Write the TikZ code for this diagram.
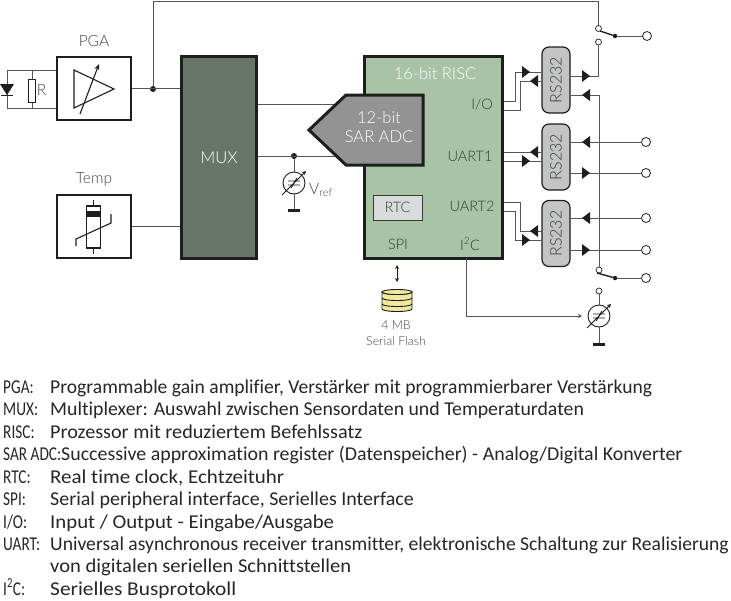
\documentclass[tikz,border=0pt]{standalone}
\usepackage{fontspec}
\usetikzlibrary{arrows.meta}
\setmainfont{Carlito}[Ligatures=NoCommon]
\newfontfamily\keyfont{Carlito}[Ligatures=NoCommon,FakeStretch=0.78]
\newfontfamily\blockfont{Lato Light}
\definecolor{wirec}{HTML}{555555}
\definecolor{darkc}{HTML}{1C1F1C}
\definecolor{muxc}{HTML}{68766A}
\definecolor{riscc}{HTML}{A8C3A5}
\definecolor{adcc}{HTML}{939393}
\definecolor{rtcc}{HTML}{D8DADC}
\definecolor{rsc}{HTML}{C4C4C4}
\definecolor{flashc}{HTML}{F1E8A0}
\definecolor{labelc}{HTML}{444444}
\definecolor{chipc}{HTML}{2F3F32}
\tikzset{
  wire/.style={wirec,line width=0.9pt},
  block/.style={draw=darkc,line width=1.4pt,fill=white,minimum width=74pt,minimum height=63pt,inner sep=0pt},
  bigblock/.style={draw=darkc,line width=3pt,inner sep=0pt},
  rsbox/.style={draw=darkc,line width=1.2pt,fill=rsc,rounded corners=7pt,minimum width=28pt,minimum height=66pt,inner sep=0pt,text=chipc,font=\blockfont\fontsize{16}{18}\selectfont},
  lbl/.style={text=labelc,font=\blockfont\fontsize{15.5}{18}\selectfont,inner sep=0pt},
  chiplbl/.style={text=chipc,font=\blockfont\fontsize{14.5}{16}\selectfont,inner sep=0pt},
  whitelbl/.style={text=white,font=\blockfont\fontsize{16.5}{19}\selectfont,inner sep=0pt,align=center},
  term/.style={circle,draw=darkc,line width=0.8pt,fill=white,minimum size=9pt,inner sep=0pt},
  smallterm/.style={circle,draw=darkc,line width=0.7pt,fill=white,minimum size=6pt,inner sep=0pt},
  joint/.style={circle,fill=darkc,minimum size=6pt,inner sep=0pt},
  legkey/.style={anchor=base west,inner sep=0pt,font=\keyfont\fontsize{19.6}{22}\selectfont,text=black!85},
  legtext/.style={anchor=base west,inner sep=0pt,font=\fontsize{19.6}{22}\selectfont,text=black!85},
  meter/.pic={
    \node[circle,draw=darkc,line width=0.9pt,fill=white,minimum size=22pt,inner sep=0pt] (-c) at (0,0) {};
    \draw[darkc,line width=0.9pt] (-6,-2) -- (6,-2) (-6,2) -- (6,2) (-3,5) -- (3,-5);
    \draw[darkc,line width=0.9pt,-{Stealth[length=4pt,width=4pt]}] (-12,12) -- (12,-12);
  }
}
\begin{document}
\begin{tikzpicture}[x=1pt,y=-1pt]
  \useasboundingbox (0,0) rectangle (731,600);
  \node[block] (pga) at (94,88.5) {};
  \node[block] (temp) at (94,226.5) {};
  \node[bigblock,fill=muxc,minimum width=75pt,minimum height=202pt,whitelbl] (mux) at (219,157.5) {MUX};
  \node[lbl] (pgalbl) at (94,41) {PGA};
  \node[lbl] (templbl) at (94,179) {Temp};
  % input network
  \coordinate (diodetop) at (7,70.5);
  \coordinate (diodebot) at (7,108);
  \coordinate (restop) at (32,70.5);
  \coordinate (resbot) at (32,108);
  \draw[wire] (pga.west |- diodetop) -- (diodetop) -- (diodebot) -- (pga.west |- diodebot);
  \draw[wire] (restop) -- (resbot);
  \node[draw=darkc,line width=1pt,fill=white,minimum width=7pt,minimum height=23pt,inner sep=0pt] (res) at (32,90.5) {};
  \node[lbl] (reslbl) at (41.5,90) {R};
  \fill[darkc] (0,84) -- (14,84) -- (7,95) -- cycle;
  \draw[darkc,line width=1.2pt] (1,95.5) -- (13,95.5);
  % amplifier and thermistor symbols
  \draw[darkc,line width=1.1pt] (74,70) -- (114,89) -- (74,108) -- cycle;
  \draw[darkc,line width=1.1pt,-{Stealth[length=6pt,width=5pt]}] (80,114) -- (99,64);
  \draw[darkc,line width=1.1pt,fill=white] (86.5,206) rectangle (100.5,248);
  \fill[darkc] (86.5,211) rectangle (100.5,217);
  \draw[darkc,line width=1.1pt] (93.5,200) -- (93.5,206) (93.5,248) -- (93.5,254);
  \draw[darkc,line width=1.1pt] (76,246) -- (76,239) -- (111,223) -- (111,214);
  % mux wiring
  \coordinate (adcin1) at (340,104);
  \coordinate (adcin2) at (340,156);
  \node[joint] (pgadot) at (153,89) {};
  \node[joint] (vrefdot) at (294,156) {};
  \draw[wire] (pga.east) -- (pga.east -| mux.west);
  \draw[wire] (temp.east) -- (temp.east -| mux.west);
  \draw[wire] (mux.east |- adcin1) -- (adcin1);
  \draw[wire] (mux.east |- adcin2) -- (adcin2);
  \pic (vmeter) at (294,183) {meter};
  \coordinate (vgnd) at (294,210);
  \draw[wire] (vrefdot) -- (vmeter-c);
  \draw[wire] (vmeter-c) -- (vgnd);
  \draw[darkc,line width=3pt] (288,210) -- (300,210);
  \node[lbl,anchor=west] (vreflbl) at (309,190) {V\textsubscript{ref}};
  % controller
  \node[bigblock,fill=riscc,minimum width=138pt,minimum height=202pt] (risc) at (433,157) {};
  \node[whitelbl] (risclbl) at (435,74) {16-bit RISC};
  \filldraw[bigblock,fill=adcc,line join=miter] (309,130) -- (346,95) -- (423,95) -- (423,165) -- (346,165) -- cycle;
  \node[whitelbl] (adclbl) at (379,127) {12-bit\\SAR ADC};
  \node[draw=chipc,line width=1pt,fill=rtcc,minimum width=49pt,minimum height=25pt,inner sep=0pt,chiplbl] (rtc) at (397.5,207.5) {RTC};
  \node[chiplbl] (iolbl) at (482,105) {I/O};
  \node[chiplbl] (uartalbl) at (470,156) {UART1};
  \node[chiplbl] (uartblbl) at (472,206) {UART2};
  \node[chiplbl] (spilbl) at (398,244) {SPI};
  \node[chiplbl] (iclbl) at (470,244) {I\textsuperscript{2}C};
  % serial drivers
  \node[rsbox] (rsa) at (556,80) {\rotatebox{90}{RS232}};
  \node[rsbox] (rsb) at (556,157) {\rotatebox{90}{RS232}};
  \node[rsbox] (rsc) at (556,233.5) {\rotatebox{90}{RS232}};
  \coordinate (ioa) at (503.5,101);
  \coordinate (iob) at (503.5,110);
  \coordinate (uaa) at (503.5,152);
  \coordinate (uab) at (503.5,161);
  \coordinate (uba) at (503.5,202);
  \coordinate (ubb) at (503.5,211);
  \draw[wire] (ioa) -- (515,101) |- (rsa.west |- 515,72);
  \draw[wire] (iob) -- (520,110) |- (rsa.west |- 520,81);
  \draw[wire] (uaa) -- (rsb.west |- uaa);
  \draw[wire] (uab) -- (rsb.west |- uab);
  \draw[wire] (uba) -- (520,202) |- (rsc.west |- 520,231);
  \draw[wire] (ubb) -- (515,211) |- (rsc.west |- 515,240);
  % output side
  \node[term] (tb) at (646,142) {};
  \node[term] (tc) at (646,173) {};
  \node[term] (td) at (646,218) {};
  \node[term] (te) at (646,250) {};
  \node[term] (ta) at (647,36) {};
  \node[term] (tf) at (646,278) {};
  \node[smallterm] (swaa) at (598.5,28.5) {};
  \node[smallterm] (swab) at (598.5,42) {};
  \node[smallterm] (swba) at (599,270) {};
  \node[smallterm] (swbb) at (599,291) {};
  \node[joint,minimum size=4.5pt] (pivota) at (615,36) {};
  \node[joint,minimum size=4.5pt] (pivotb) at (615,278) {};
  \coordinate (bladea) at (600,31);
  \coordinate (bladeb) at (597,273);
  \coordinate (txa) at (598.5,76);
  \coordinate (rxa) at (599,95);
  \draw[wire] (pgadot) -- (153,1) -| (swaa);
  \draw[wire] (swab) -- (txa) -- (rsa.east |- txa);
  \draw[wire] (rsa.east |- rxa) -- (rxa) -- (swba);
  \draw[wire] (rsb.east |- tb) -- (tb);
  \draw[wire] (rsb.east |- tc) -- (tc);
  \draw[wire] (rsc.east |- td) -- (td);
  \draw[wire] (rsc.east |- te) -- (te);
  \draw[wire] (pivota) -- (ta);
  \draw[wire] (pivotb) -- (tf);
  \draw[darkc,line width=1.4pt] (bladea) -- (pivota);
  \draw[darkc,line width=1.4pt] (bladeb) -- (pivotb);
  % drivers arrow heads
  \foreach \x/\y in {526/72,526/161,526/240,586/76,586/173,586/250}
    \fill[darkc] (\x-4,\y-6) -- (\x+4,\y) -- (\x-4,\y+6) -- cycle;
  \foreach \x/\y in {534/81,534/152,534/231,586/95,586/142,586/218}
    \fill[darkc] (\x+4,\y-6) -- (\x-4,\y) -- (\x+4,\y+6) -- cycle;
  % display output
  \pic (omete) at (599,316) {meter};
  \coordinate (iicout) at (466,258);
  \coordinate (iicend) at (582,316);
  \coordinate (ogndc) at (599,344);
  \draw[wire] (swbb) -- (omete-c);
  \draw[wire] (omete-c) -- (ogndc);
  \draw[darkc,line width=3pt] (593,344) -- (605,344);
  \draw[wire,-{Stealth[length=4pt,width=4pt]}] (iicout) |- (iicend);
  % flash
  \coordinate (flashtop) at (397,282);
  \coordinate (spiout) at (397,265);
  \draw[darkc,line width=1pt,{Stealth[length=4pt,width=4pt]}-{Stealth[length=4pt,width=4pt]}] (spiout) -- (flashtop);
  \draw[darkc,line width=0.9pt,fill=flashc] (382,292) arc[start angle=180,end angle=360,x radius=15,y radius=-2.5] -- (412,309) arc[start angle=360,end angle=180,x radius=15,y radius=-2.5] -- cycle;
  \draw[darkc,line width=0.9pt,fill=flashc] (397,292) ellipse[x radius=15,y radius=2.5];
  \draw[darkc,line width=0.9pt] (382,298) arc[start angle=180,end angle=360,x radius=15,y radius=-2.5];
  \draw[darkc,line width=0.9pt] (382,304) arc[start angle=180,end angle=360,x radius=15,y radius=-2.5];
  \node[lbl,font=\blockfont\fontsize{12.3}{16}\selectfont,align=center] (flashlbl) at (396,333.5) {4 MB\\Serial Flash};
  % legend
  \node[legkey] (kpga) at (3,393) {PGA:};
  \node[legtext] (tpga) at (50,393) {Programmable gain amplifier, Verstärker mit programmierbarer Verstärkung};
  \node[legkey] (kmux) at (3,415.5) {MUX:};
  \node[legtext] (tmux) at (50,415.5) {\scalebox{1.01}[1]{Multiplexer: Auswahl zwischen Sensordaten und Temperaturdaten}};
  \node[legkey] (krisc) at (3,438) {RISC:};
  \node[legtext] (trisc) at (50,438) {\scalebox{1.03}[1]{Prozessor mit reduziertem Befehlssatz}};
  \node[legkey] (ksar) at (3,460.5) {SAR ADC:};
  \node[legtext] (tsar) at (61,460.5) {\scalebox{1.015}[1]{Successive approximation register (Datenspeicher) - Analog/Digital Konverter}};
  \node[legkey] (krtc) at (3,483) {RTC:};
  \node[legtext] (trtc) at (50,483) {\scalebox{1.07}[1]{Real time clock, Echtzeituhr}};
  \node[legkey] (kspi) at (3,505.5) {SPI:};
  \node[legtext] (tspi) at (50,505.5) {\scalebox{1.02}[1]{Serial peripheral interface, Serielles Interface}};
  \node[legkey] (kio) at (3,528) {I/O:};
  \node[legtext] (tio) at (50,528) {\scalebox{1.06}[1]{Input / Output - Eingabe/Ausgabe}};
  \node[legkey] (kuart) at (3,550) {UART:};
  \node[legtext] (tuart) at (50,550) {Universal asynchronous receiver transmitter, elektronische Schaltung zur Realisierung};
  \node[legtext] (tuartb) at (50,572) {\scalebox{1.05}[1]{von digitalen seriellen Schnittstellen}};
  \node[legkey] (kiic) at (3,595) {I\textsuperscript{2}C:};
  \node[legtext] (tiic) at (50,595) {\scalebox{1.09}[1]{Serielles Busprotokoll}};
\end{tikzpicture}
\end{document}
